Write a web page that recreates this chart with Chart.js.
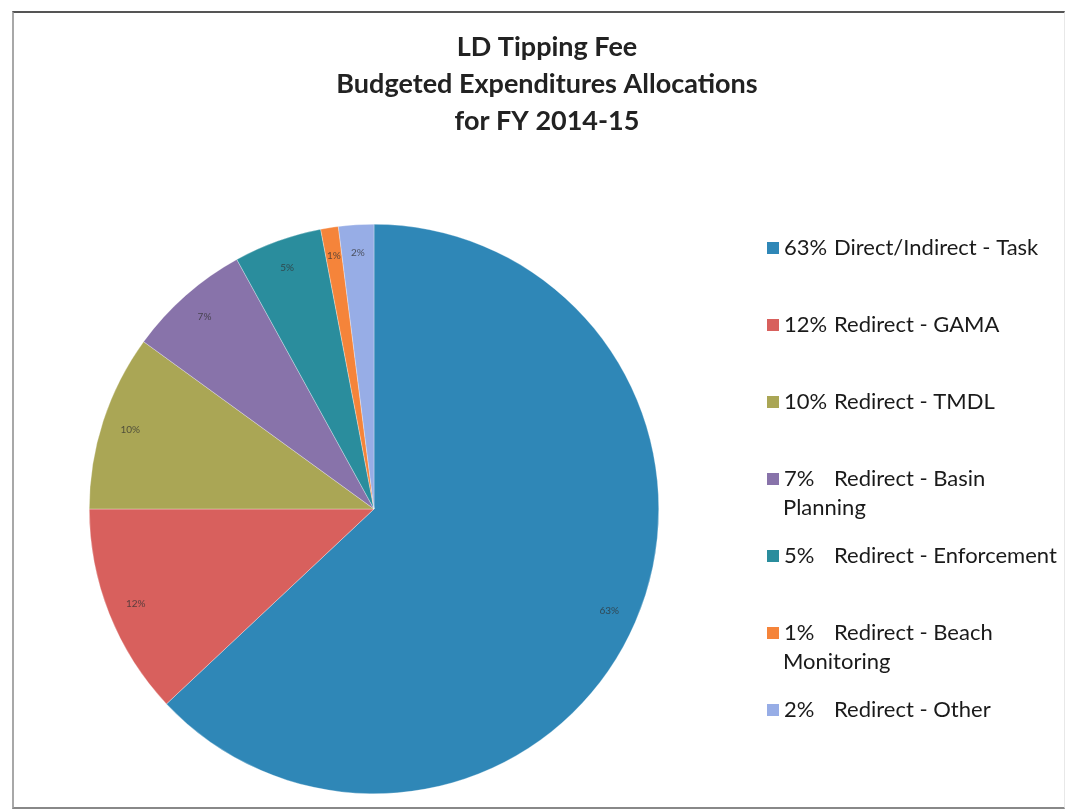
<!DOCTYPE html>
<html>
<head>
<meta charset="utf-8">
<title>LD Tipping Fee</title>
<script src="https://cdn.jsdelivr.net/npm/chart.js@4.4.1/dist/chart.umd.min.js"></script>
<style>
    html, body {
        margin: 0;
        padding: 0;
        background: #ffffff;
    }
    #wrap {
        position: relative;
        width: 1067px;
        height: 809px;
        overflow: hidden;
    }
    #frame {
        position: absolute;
        left: 12px;
        top: 11px;
        width: 1050px;
        height: 794px;
        border-left: 2px solid #a8a8a8;
        border-top: 2px solid #555555;
        border-bottom: 2px solid #888888;
        border-right: 1px solid #e8e8e8;
        pointer-events: none;
    }
    #grafico {
        position: absolute;
        left: 0;
        top: 0;
    }
</style>
</head>
<body>
<div id="wrap">
    <canvas id="grafico" width="1067" height="809"></canvas>
    <div id="frame"></div>
</div>
<script>
const titleLines = ["LD Tipping Fee", "Budgeted Expenditures Allocations", "for FY 2014-15"];

// percentage of the budget per allocation
const shares = [63, 12, 10, 7, 5, 1, 2];

// allocation names, split where the legend wraps
const names = [
    ["Direct/Indirect - Task"],
    ["Redirect - GAMA"],
    ["Redirect - TMDL"],
    ["Redirect - Basin", "Planning"],
    ["Redirect - Enforcement"],
    ["Redirect - Beach", "Monitoring"],
    ["Redirect - Other"],
];

const colors = ["#2f87b7", "#d8605d", "#aaa655", "#8873aa", "#2a8d9d", "#f5843a", "#97ade6"];

const grafico = document.getElementById("grafico");

// Title drawn by hand so it can sit a bit right of the canvas centre
const titlePlugin = {
    id: "titlePlugin",
    afterDraw(chart) {
        const ctx = chart.ctx;
        ctx.save();
        ctx.font = "bold 27px Lato";
        ctx.fillStyle = "#222222";
        ctx.textAlign = "center";
        ctx.textBaseline = "middle";
        titleLines.forEach((line, i) => {
            ctx.fillText(line, 547, 47 + i * 37);
        });
        ctx.restore();
    },
};

// Small percentage labels inside each slice
const sliceLabels = {
    id: "sliceLabels",
    afterDatasetsDraw(chart) {
        const ctx = chart.ctx;
        const meta = chart.getDatasetMeta(0);
        ctx.save();
        ctx.font = "10px Lato";
        ctx.fillStyle = "rgba(50, 50, 50, 0.75)";
        ctx.textAlign = "center";
        ctx.textBaseline = "middle";
        meta.data.forEach((arc, i) => {
            const p = arc.getProps(["x", "y", "startAngle", "endAngle", "outerRadius"], true);
            const mid = (p.startAngle + p.endAngle) / 2;
            const r = p.outerRadius * 0.9;
            ctx.fillText(shares[i] + "%", p.x + Math.cos(mid) * r, p.y + Math.sin(mid) * r);
        });
        ctx.restore();
    },
};

// Legend on the right with uneven, wrapped entries
const sideLegend = {
    id: "sideLegend",
    afterDraw(chart) {
        const ctx = chart.ctx;
        const top = 248;
        const rowGap = 77;
        const lineGap = 29;
        ctx.save();
        ctx.font = "22px Lato";
        ctx.textBaseline = "middle";
        ctx.textAlign = "left";
        shares.forEach((value, i) => {
            const y = top + i * rowGap;
            ctx.fillStyle = colors[i];
            ctx.fillRect(767, y - 6, 12, 12);
            ctx.fillStyle = "#1a1a1a";
            ctx.fillText(value + "%", 784, y);
            ctx.fillText(names[i][0], 834, y);
            for (let k = 1; k < names[i].length; k++) {
                ctx.fillText(names[i][k], 783, y + k * lineGap);
            }
        });
        ctx.restore();
    },
};

new Chart(grafico, {
    type: "pie",
    data: {
        labels: names.map((n) => n.join(" ")),
        datasets: [
            {
                data: shares,
                backgroundColor: colors,
                borderColor: "rgba(255, 255, 255, 0.6)",
                borderWidth: 0.5,
            },
        ],
    },
    options: {
        responsive: false,
        animation: false,
        layout: {
            padding: { left: 89, right: 408, top: 224, bottom: 15 },
        },
        plugins: {
            legend: { display: false },
            title: { display: false },
            tooltip: { enabled: false },
        },
    },
    plugins: [titlePlugin, sliceLabels, sideLegend],
});
</script>
</body>
</html>
